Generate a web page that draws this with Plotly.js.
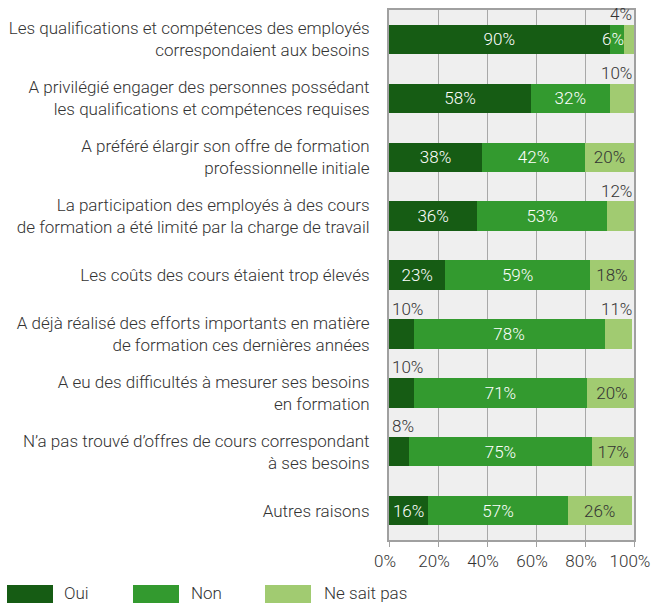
<!DOCTYPE html>
<html>
<head>
<meta charset="utf-8">
<script src="https://cdn.plot.ly/plotly-3.0.1.min.js"></script>
<style>html,body{margin:0;padding:0;background:#fff;}#chart{width:651px;height:603px;}</style>
</head>
<body>
<div id="chart"></div>
<script>
const categories = [
  "Les qualifications et compétences des employés<br>correspondaient aux besoins",
  "A privilégié engager des personnes possédant<br>les qualifications et compétences requises",
  "A préféré élargir son offre de formation<br>professionnelle initiale",
  "La participation des employés à des cours<br>de formation a été limité par la charge de travail",
  "Les coûts des cours étaient trop élevés",
  "A déjà réalisé des efforts importants en matière<br>de formation ces dernières années",
  "A eu des difficultés à mesurer ses besoins<br>en formation",
  "N’a pas trouvé d’offres de cours correspondant<br>à ses besoins",
  "Autres raisons"
];
const seriesNames = ["Oui", "Non", "Ne sait pas"];
const oui = [90, 58, 38, 36, 23, 10, 10, 8, 16];
const non = [6, 32, 42, 53, 59, 78, 71, 75, 57];
const nsp = [4, 10, 20, 12, 18, 11, 20, 17, 26];
const xTicks = [0, 20, 40, 60, 80, 100];
const xTickText = ["0%", "20%", "40%", "60%", "80%", "100%"];

const colors = ["#165c14", "#339a2f", "#a1cb71"];
const txtColors = ["#ffffff", "#ffffff", "#333333"];
const FONT = "Roboto, 'Open Sans', sans-serif";
const W = 300;
const MIN_INSIDE = 15;
const LBL = 17;

const series = [oui, non, nsp];
const traces = series.map((vals, k) => ({
  type: "bar",
  orientation: "h",
  name: seriesNames[k],
  y: categories.map((c, i) => i),
  x: vals,
  marker: {color: colors[k], line: {width: 0}},
  text: vals.map(v => v >= MIN_INSIDE ? v + "%" : ""),
  textposition: "inside",
  insidetextanchor: "middle",
  textangle: 0,
  constraintext: "none",
  textfont: {family: FONT, size: LBL, color: txtColors[k], weight: W},
  hoverinfo: "skip",
  showlegend: false
}));

const annotations = [];
categories.forEach((c, i) => {
  if (oui[i] < MIN_INSIDE) {
    annotations.push({x: 0, y: i - 0.43, xref: "x", yref: "y", text: oui[i] + "%",
      showarrow: false, xanchor: "left", yanchor: "middle", xshift: 1,
      font: {family: FONT, size: LBL, color: "#333", weight: W}});
  }
  if (non[i] < MIN_INSIDE) {
    annotations.push({x: oui[i] + non[i], y: i, xref: "x", yref: "y", text: non[i] + "%",
      showarrow: false, xanchor: "right", yanchor: "middle", xshift: 2,
      font: {family: FONT, size: LBL, color: "#fff", weight: W}});
  }
  if (nsp[i] < MIN_INSIDE) {
    annotations.push({x: 100, y: i - 0.43, xref: "x", yref: "y", text: nsp[i] + "%",
      showarrow: false, xanchor: "right", yanchor: "middle", xshift: 0,
      font: {family: FONT, size: LBL, color: "#333", weight: W}});
  }
});

// custom legend
const L = 389, R = 634, T = 10, B = 540;
const px = v => (v - L) / (R - L);
const py = v => (B - v) / (B - T);
const legendItems = [[7, 63], [133, 190], [265, 323]];
const shapes = [];
legendItems.forEach((it, k) => {
  shapes.push({type: "rect", xref: "paper", yref: "paper",
    x0: px(it[0]), x1: px(it[0] + 46), y0: py(585), y1: py(606),
    fillcolor: colors[k], line: {width: 0}});
  annotations.push({xref: "paper", yref: "paper", x: px(it[1] - 1), y: py(593),
    xanchor: "left", yanchor: "middle", showarrow: false, text: seriesNames[k],
    font: {family: FONT, size: 17, color: "#333", weight: W}});
});

const layout = {
  width: 651, height: 603,
  margin: {l: L, r: 651 - R, t: T, b: 603 - B, pad: 0},
  paper_bgcolor: "#ffffff",
  plot_bgcolor: "#efefef",
  barmode: "stack",
  bargap: 0.5,
  showlegend: false,
  font: {family: FONT, color: "#333", weight: W},
  xaxis: {
    range: [0, 100], fixedrange: true,
    tickvals: xTicks, ticktext: xTickText,
    tickfont: {family: FONT, size: 17, color: "#333", weight: W},
    ticks: "outside", ticklen: 5, tickcolor: "#a0a0a0", tickwidth: 1,
    ticklabeloverflow: "allow", ticklabelshift: -4,
    showgrid: true, gridcolor: "#a8a8a8", gridwidth: 1,
    showline: true, mirror: true, linecolor: "#a0a0a0", linewidth: 2,
    zeroline: false
  },
  yaxis: {
    type: "linear",
    range: [categories.length - 0.5, -0.5],
    tickvals: categories.map((c, i) => i), ticktext: categories,
    tickfont: {family: FONT, size: LBL, color: "#333", weight: W},
    ticks: "", ticklabelstandoff: 14,
    showgrid: false,
    showline: true, mirror: true, linecolor: "#a0a0a0", linewidth: 2,
    zeroline: false
  },
  shapes: shapes,
  annotations: annotations
};

Plotly.newPlot("chart", traces, layout, {displayModeBar: false, staticPlot: true});
</script>
</body>
</html>
